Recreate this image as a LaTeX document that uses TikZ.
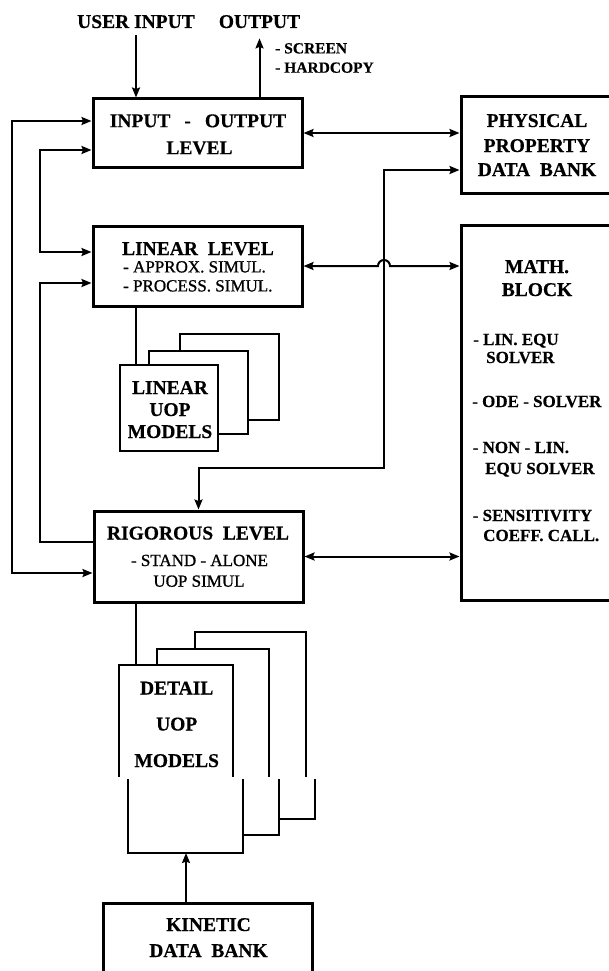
\documentclass[tikz,border=0pt]{standalone}
\usepackage{fontspec}
\setmainfont{Liberation Serif}[BoldFeatures={FakeBold=0.4}]
\newfontfamily\medfont[FakeBold=1]{Liberation Serif}
\usetikzlibrary{arrows.meta}
\begin{document}
\begin{tikzpicture}[x=1pt,y=-1pt,
  box/.style={draw, line width=3pt, inner sep=0pt},
  stk/.style={draw, line width=2.6pt},
  conn/.style={line width=2pt},
  >={Stealth[length=10pt,width=8pt,inset=1.5pt]},
  hd/.style={font=\fontsize{19.5}{19.5}\selectfont\bfseries, inner sep=0pt, anchor=base},
  sub/.style={font=\medfont\fontsize{17}{17}\selectfont, inner sep=0pt, anchor=base},
  itm/.style={font=\fontsize{17}{17}\selectfont\bfseries, inner sep=0pt, anchor=base west},
  sm/.style={font=\fontsize{15.5}{15.5}\selectfont\bfseries, inner sep=0pt, anchor=base west}]
\useasboundingbox (0,0) rectangle (609,971);
\fill[white] (0,0) rectangle (609,971);
\clip (0,0) rectangle (609,971);

% boxes
\node[box, minimum width=209pt, minimum height=68pt] (io) at (197.5,133) {};
\node[box, minimum width=209pt, minimum height=80pt] (lin) at (197.5,266) {};
\node[box, minimum width=209pt, minimum height=91pt] (rig) at (198.5,556.5) {};
\node[box, minimum width=152pt, minimum height=96pt] (ppdb) at (537,145) {};
\node[box, minimum width=152pt, minimum height=375pt] (math) at (537,412.5) {};
\node[box, line width=2.6pt, minimum width=98pt, minimum height=86pt] (luop) at (169,408) {};
\node[box, minimum width=209pt, minimum height=92pt] (kin) at (207.5,949) {};

% stacked linear UOP models
\draw[stk] (149,365) -- (149,351) -- (248,351) -- (248,434) -- (218,434);
\draw[stk] (180,351) -- (180,334) -- (279,334) -- (279,420) -- (248,420);

% stacked detail UOP models (with the offset of the original)
\draw[stk] (119,777) -- (119,665) -- (233,665) -- (233,777);
\draw[stk] (128,779) -- (128,853) -- (243,853) -- (243,779);
\draw[stk] (157,665) -- (157,649) -- (269,649) -- (269,777);
\draw[stk] (279,779) -- (279,835) -- (243,835);
\draw[stk] (195,649) -- (195,632) -- (306,632) -- (306,777);
\draw[stk] (315,779) -- (315,819) -- (279,819);
\coordinate (detTop) at (136,665);
\coordinate (detBot) at (186,853);

% texts
\node[hd] (ui) at (136,28) {USER INPUT};
\node[hd] (out) at (259.5,28) {OUTPUT};
\node[sm] (scr) at (275,53.4) {- SCREEN};
\node[sm] (hc) at (275,72.7) {- HARDCOPY};
\node[hd] (iot1) at (198,127.2) {INPUT\hspace{14pt}-\hspace{14pt}OUTPUT};
\node[hd] (iot2) at (199.5,154.2) {LEVEL};
\node[hd] (pp1) at (537,127) {PHYSICAL};
\node[hd] (pp2) at (537,152) {PROPERTY};
\node[hd] (pp3) at (537,176) {DATA\ \ BANK};
\node[hd] (lt1) at (198,255) {LINEAR\ \ LEVEL};
\node[sub, anchor=base west] (lt2) at (123,272.4) {- APPROX. SIMUL.};
\node[sub, anchor=base west] (lt3) at (123,291.4) {- PROCESS. SIMUL.};
\node[hd] (lu1) at (170,394) {LINEAR};
\node[hd] (lu2) at (170,416) {UOP};
\node[hd] (lu3) at (170,438) {MODELS};
\node[hd] (rt1) at (198,539.5) {RIGOROUS\ \ LEVEL};
\node[sub] (rt2) at (199.5,566) {- STAND - ALONE};
\node[sub] (rt3) at (199,586.7) {UOP SIMUL};
\node[hd] (mt1) at (537,273) {MATH.};
\node[hd] (mt2) at (537,296) {BLOCK};
\node[itm] (mi1) at (473,345) {- LIN. EQU};
\node[itm] (mi2) at (486,363) {SOLVER};
\node[itm] (mi3) at (472,407) {- ODE - SOLVER};
\node[itm] (mi4) at (472.5,453) {- NON - LIN.};
\node[itm] (mi5) at (485,474) {EQU SOLVER};
\node[itm] (mi6) at (472.5,521) {- SENSITIVITY};
\node[itm] (mi7) at (483,541) {COEFF. CALL.};
\node[hd] (dt1) at (176.7,694.5) {DETAIL};
\node[hd] (dt2) at (176.7,730.5) {UOP};
\node[hd] (dt3) at (176.7,767) {MODELS};
\node[hd] (kt1) at (208.5,931) {KINETIC};
\node[hd] (kt2) at (208.5,957) {DATA\ \ BANK};

% helper coordinates
\coordinate (railA) at (12,0);
\coordinate (railB) at (40,0);
\coordinate (tapL) at (136,0);
\coordinate (vx) at (384,468);
\coordinate (uis) at ([yshift=-7pt]ui.south);
\coordinate (outs) at ([yshift=-10pt]out.south);
\coordinate (ioW1) at ([yshift=12pt]io.west);
\coordinate (ioW2) at ([yshift=-17pt]io.west);
\coordinate (linW1) at ([yshift=14pt]lin.west);
\coordinate (linW2) at ([yshift=-17pt]lin.west);
\coordinate (rigW1) at ([yshift=14.5pt]rig.west);
\coordinate (rigW2) at ([yshift=-16.5pt]rig.west);
\coordinate (ppW) at ([yshift=-25pt]ppdb.west);
\coordinate (hop) at (lin.east -| vx);

% connectors
\draw[conn,->] (uis) -- (uis |- io.north);
\draw[conn,->] (outs |- io.north) -- (outs);
\draw[conn,<->] (ioW1) -| (railA |- rigW2) -- (rigW2);
\draw[conn,<->] (ioW2) -| (railB |- linW1) -- (linW1);
\draw[conn,->] (rigW1) -| (railB |- linW2) -- (linW2);
\draw[conn,<->] (io.east) -- (io.east -| ppdb.west);
\draw[conn,<->] (lin.east) -- ([xshift=-6pt]hop) arc[start angle=180,end angle=0,radius=6pt] -- (lin.east -| math.west);
\draw[conn,<->] (rig.east) -- (rig.east -| math.west);
\draw[conn,<->] (rig.north) |- (vx) |- (ppW);
\draw[conn] (lin.south -| tapL) -- (luop.north -| tapL);
\draw[conn] (rig.south -| tapL) -- (detTop);
\draw[conn,->] (kin.north -| detBot) -- (detBot);
\end{tikzpicture}
\end{document}
